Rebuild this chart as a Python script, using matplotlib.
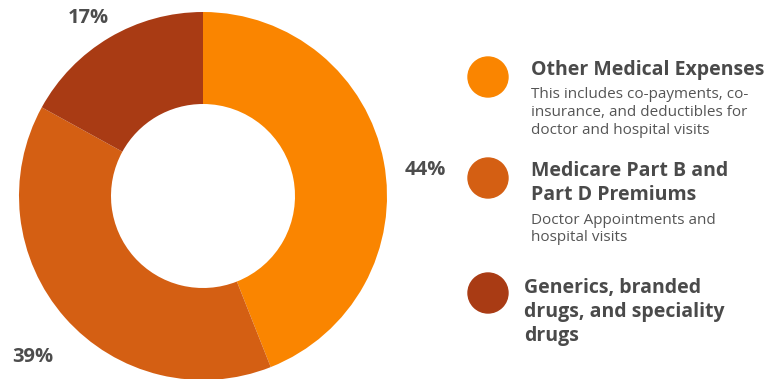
import matplotlib.pyplot as plt
from matplotlib.patches import Ellipse
import numpy as np

shares = [44, 39, 17]
labels = ['44%', '39%', '17%']
colors = ['#FA8500', '#D45F13', '#A93B14']
titles = [['Other Medical Expenses'],
          ['Medicare Part B and', 'Part D Premiums'],
          ['Generics, branded', 'drugs, and speciality', 'drugs']]
notes = [['This includes co-payments, co-', 'insurance, and deductibles for',
          'doctor and hospital visits'],
         ['Doctor Appointments and', 'hospital visits'],
         []]

plt.rcParams['font.family'] = ['Open Sans', 'DejaVu Sans']

W, H = 771, 379
fig = plt.figure(figsize=(W/100, H/100), dpi=100)

# donut: centre (203,196) px, radius 184 px
cx, cy, r = 203, 196, 184
ax = fig.add_axes([(cx-r)/W, (H-cy-r)/H, 2*r/W, 2*r/H])
wedges, _ = ax.pie(shares, colors=colors, startangle=90, counterclock=False,
                   radius=1, wedgeprops=dict(width=0.5, linewidth=0))
ax.set_xlim(-1, 1)
ax.set_ylim(-1, 1)
ax.set_aspect('equal')
ax.axis('off')

# percent labels outside the ring (radius, angle shift from wedge middle)
label_r = [1.215, 1.272, 1.152]
label_shift = [-4.1, 2.0, 2.3]
for w, lab, lr, sh in zip(wedges, labels, label_r, label_shift):
    ang = np.deg2rad((w.theta1 + w.theta2) / 2 + sh)
    ax.text(lr*np.cos(ang), lr*np.sin(ang), lab, ha='center', va='center',
            fontsize=14.5, fontweight='bold', color='#4d4d4d', clip_on=False)

# legend on the right
def fy(py):
    return 1 - py/H

dot_y = [77, 178, 293]
title_x = [531, 531, 524]
title_base = [[75], [176, 200.5], [293, 317, 341]]
note_base = [[97.5, 115.5, 133.5], [224, 241], []]
for i in range(3):
    fig.patches.append(Ellipse((488/W, fy(dot_y[i])), 40/W, 40/H,
                               transform=fig.transFigure, color=colors[i]))
    for line, by in zip(titles[i], title_base[i]):
        fig.text(title_x[i]/W, fy(by), line, ha='left', va='baseline',
                 fontsize=14, fontweight='bold', color='#4a4a4a')
    for line, by in zip(notes[i], note_base[i]):
        fig.text(531/W, fy(by), line, ha='left', va='baseline',
                 fontsize=11, color='#555555')

fig.savefig('out.png', dpi=100)
